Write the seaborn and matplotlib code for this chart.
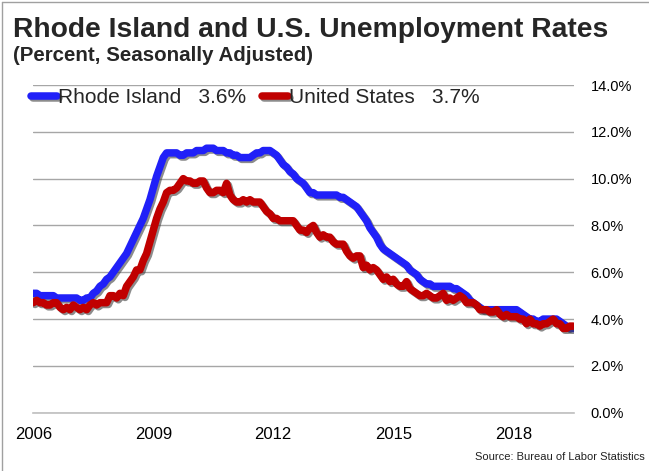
import numpy as np
import pandas as pd
import matplotlib
matplotlib.use("Agg")
import matplotlib.pyplot as plt
import matplotlib.patheffects as pe
import seaborn as sns

# Monthly unemployment rates, Jan 2006 - Jul 2019 (percent, SA)
ri_rate = [
    5.1, 5.1, 5.0, 5.0, 5.0, 5.0, 5.0, 4.9, 4.9, 4.9, 4.9, 4.9,   # 2006
    4.9, 4.9, 4.8, 4.8, 4.9, 4.9, 5.1, 5.2, 5.4, 5.5, 5.7, 5.8,   # 2007
    6.0, 6.2, 6.4, 6.6, 6.8, 7.1, 7.4, 7.7, 8.0, 8.3, 8.7, 9.1,   # 2008
    9.6, 10.1, 10.5, 10.9, 11.1, 11.1, 11.1, 11.1, 11.0, 11.0, 11.1, 11.1,  # 2009
    11.1, 11.2, 11.2, 11.2, 11.3, 11.3, 11.3, 11.2, 11.2, 11.2, 11.1, 11.1,  # 2010
    11.0, 11.0, 10.9, 10.9, 10.9, 10.9, 11.0, 11.1, 11.1, 11.2, 11.2, 11.2,  # 2011
    11.1, 11.0, 10.8, 10.6, 10.5, 10.3, 10.2, 10.0, 9.9, 9.8, 9.6, 9.4,  # 2012
    9.4, 9.3, 9.3, 9.3, 9.3, 9.3, 9.3, 9.3, 9.2, 9.2, 9.1, 9.0,   # 2013
    8.9, 8.8, 8.6, 8.4, 8.2, 7.9, 7.7, 7.5, 7.2, 7.0, 6.9, 6.8,   # 2014
    6.7, 6.6, 6.5, 6.4, 6.3, 6.1, 6.0, 5.9, 5.7, 5.6, 5.5, 5.5,   # 2015
    5.4, 5.4, 5.4, 5.4, 5.4, 5.4, 5.3, 5.3, 5.2, 5.1, 5.0, 4.8,   # 2016
    4.7, 4.6, 4.5, 4.4, 4.4, 4.4, 4.4, 4.4, 4.4, 4.4, 4.4, 4.4,   # 2017
    4.4, 4.4, 4.3, 4.2, 4.1, 4.0, 4.0, 3.9, 3.9, 4.0, 4.0, 4.0,   # 2018
    4.0, 4.0, 3.9, 3.8, 3.7, 3.6, 3.6,                             # 2019
]
us_rate = [
    4.7, 4.8, 4.7, 4.7, 4.6, 4.6, 4.7, 4.7, 4.5, 4.4, 4.5, 4.4,   # 2006
    4.6, 4.5, 4.4, 4.5, 4.4, 4.6, 4.7, 4.6, 4.7, 4.7, 4.7, 5.0,   # 2007
    5.0, 4.9, 5.1, 5.0, 5.4, 5.6, 5.8, 6.1, 6.1, 6.5, 6.8, 7.3,   # 2008
    7.8, 8.3, 8.7, 9.0, 9.4, 9.5, 9.5, 9.6, 9.8, 10.0, 9.9, 9.9,  # 2009
    9.8, 9.8, 9.9, 9.9, 9.6, 9.4, 9.4, 9.5, 9.5, 9.4, 9.8, 9.3,   # 2010
    9.1, 9.0, 9.0, 9.1, 9.0, 9.1, 9.0, 9.0, 9.0, 8.8, 8.6, 8.5,   # 2011
    8.3, 8.3, 8.2, 8.2, 8.2, 8.2, 8.2, 8.0, 7.8, 7.8, 7.7, 7.9,   # 2012
    8.0, 7.7, 7.5, 7.6, 7.5, 7.5, 7.3, 7.2, 7.2, 7.2, 6.9, 6.7,   # 2013
    6.6, 6.7, 6.7, 6.2, 6.3, 6.1, 6.2, 6.1, 5.9, 5.7, 5.8, 5.6,   # 2014
    5.7, 5.5, 5.4, 5.4, 5.6, 5.3, 5.2, 5.1, 5.0, 5.0, 5.1, 5.0,   # 2015
    4.9, 4.9, 5.0, 5.1, 4.8, 4.9, 4.8, 4.9, 5.0, 4.9, 4.7, 4.7,   # 2016
    4.7, 4.6, 4.4, 4.4, 4.4, 4.3, 4.3, 4.4, 4.2, 4.1, 4.2, 4.1,   # 2017
    4.1, 4.1, 4.0, 4.0, 3.8, 4.0, 3.8, 3.8, 3.7, 3.8, 3.8, 3.9,   # 2018
    4.0, 3.8, 3.8, 3.6, 3.6, 3.7, 3.7,                             # 2019
]
series_names = ["Rhode Island   3.6%", "United States   3.7%"]
series_colors = ["#2020F8", "#C00000"]
year_ticks = [2006, 2009, 2012, 2015, 2018]
pct_ticks = [0, 2, 4, 6, 8, 10, 12, 14]

months = pd.date_range("2006-01-01", periods=len(ri_rate), freq="MS")
t = months.year + (months.month - 1) / 12.0
df = pd.DataFrame({
    "t": np.concatenate([t, t]),
    "rate": ri_rate + us_rate,
    "series": [series_names[0]] * len(ri_rate) + [series_names[1]] * len(us_rate),
})

sns.set_style("white")
plt.rcParams["font.family"] = ["Liberation Sans", "DejaVu Sans"]

fig = plt.figure(figsize=(6.49, 4.71), dpi=100)
ax = fig.add_axes([0.0513, 0.1238, 0.8331, 0.6957])

sns.lineplot(data=df, x="t", y="rate", hue="series", palette=series_colors,
             linewidth=5.4, ax=ax, legend=False)

shadow = [pe.SimpleLineShadow(offset=(1.3, -1.3), shadow_color="#404040", alpha=0.6),
          pe.Normal()]
for ln in ax.get_lines():
    ln.set_path_effects(shadow)
    ln.set_solid_capstyle("round")
    ln.set_solid_joinstyle("round")

ax.set_xlim(2006, 2019.52)
ax.set_ylim(0, 14)
ax.set_xticks(year_ticks)
ax.set_xticklabels([str(y) for y in year_ticks], fontsize=12)
ax.set_yticks(pct_ticks)
ax.set_yticklabels([f"{v:.1f}%" for v in pct_ticks], fontsize=10.5)
ax.yaxis.tick_right()
ax.tick_params(axis="y", length=0, pad=12, colors="black")
ax.tick_params(axis="x", direction="out", length=6, width=1, color="#BFBFBF",
               pad=4, colors="black")
ax.xaxis.set_tick_params(color="#BFBFBF")
ax.grid(axis="y", color="#A6A6A6", linewidth=1)
ax.grid(axis="x", visible=False)
ax.set_xlabel("")
ax.set_ylabel("")
for side in ["left", "right", "top"]:
    ax.spines[side].set_visible(False)
ax.spines["bottom"].set_color("#BFBFBF")
ax.spines["bottom"].set_linewidth(1.2)

handles = [plt.Line2D([], [], color=c, linewidth=5.4, solid_capstyle="round",
                      path_effects=shadow) for c in series_colors]
fig.legend(handles, series_names, loc="center left", bbox_to_anchor=(0.048, 0.793),
           ncol=2, frameon=False, fontsize=15, handlelength=1.25, handletextpad=0.05,
           columnspacing=0.75, borderaxespad=0, borderpad=0)

fig.text(0.02, 0.963, "Rhode Island and U.S. Unemployment Rates", fontsize=20.3,
         fontweight="bold", va="top", ha="left")
fig.text(0.02, 0.903, "(Percent, Seasonally Adjusted)", fontsize=14.8,
         fontweight="bold", va="top", ha="left")
fig.text(0.994, 0.02, "Source: Bureau of Labor Statistics", fontsize=8,
         ha="right", va="bottom", color="#222222")

# thin frame on the top and left edges of the picture
fig.add_artist(plt.Line2D([0.003, 0.003], [0, 0.996], transform=fig.transFigure,
                          color="#A0A0A0", linewidth=1))
fig.add_artist(plt.Line2D([0.003, 1], [0.996, 0.996], transform=fig.transFigure,
                          color="#A0A0A0", linewidth=1))

fig.savefig("out.png", dpi=100)
